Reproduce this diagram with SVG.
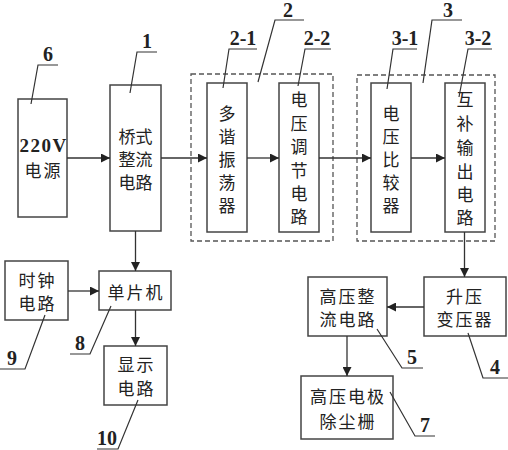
<svg xmlns="http://www.w3.org/2000/svg" width="508" height="450" viewBox="0 0 508 450">
<defs>
<marker id="ah" viewBox="0 0 10 10" refX="10" refY="5" markerWidth="9" markerHeight="9" markerUnits="userSpaceOnUse" orient="auto">
<path d="M0,0 L10,5 L0,10 z" fill="#222"/>
</marker>
</defs>
<style>
.box{fill:#fff;stroke:#444;stroke-width:1.5}
.dash{fill:none;stroke:#555;stroke-width:1.3;stroke-dasharray:5,3}
.t{font-family:"Noto Sans CJK SC","Noto Sans",sans-serif;font-size:17px;fill:#222;text-anchor:middle;dominant-baseline:central}
.h{letter-spacing:2px}
.n{font-family:"Liberation Serif",serif;font-weight:bold;font-size:20px;fill:#222;text-anchor:middle}
.ld{fill:none;stroke:#333;stroke-width:1.2}
.c{fill:none;stroke:#333;stroke-width:1.3;marker-end:url(#ah)}
</style>
<rect width="508" height="450" fill="#fff"/>
<rect class="dash" x="191" y="74" width="142" height="167"/>
<rect class="dash" x="357" y="75" width="138" height="166"/>
<g id="n6"><rect class="box" x="18" y="99" width="49" height="118"/><text x="43.5" y="152" style="font-family:'Liberation Serif',serif;font-weight:bold;font-size:19px;letter-spacing:1.5px;text-anchor:middle;fill:#222">220V</text><text class="t h" x="43.5" y="169">电源</text></g>
<g id="n1"><rect class="box" x="110" y="85" width="51" height="146"/><text class="t" x="135.5" y="135">桥式</text><text class="t" x="135.5" y="158">整流</text><text class="t" x="135.5" y="181">电路</text></g>
<g id="n2-1"><rect class="box" x="207" y="83" width="40" height="149"/><text class="t" x="227" y="112">多</text><text class="t" x="227" y="135">谐</text><text class="t" x="227" y="158">振</text><text class="t" x="227" y="181">荡</text><text class="t" x="227" y="204">器</text></g>
<g id="n2-2"><rect class="box" x="279" y="83" width="40" height="149"/><text class="t" x="299" y="98">电</text><text class="t" x="299" y="122">压</text><text class="t" x="299" y="145">调</text><text class="t" x="299" y="169">节</text><text class="t" x="299" y="192">电</text><text class="t" x="299" y="215">路</text></g>
<g id="n3-1"><rect class="box" x="371" y="83" width="40" height="149"/><text class="t" x="391" y="112">电</text><text class="t" x="391" y="135">压</text><text class="t" x="391" y="158">比</text><text class="t" x="391" y="181">较</text><text class="t" x="391" y="204">器</text></g>
<g id="n3-2"><rect class="box" x="445" y="83" width="40" height="149"/><text class="t" x="465" y="98">互</text><text class="t" x="465" y="122">补</text><text class="t" x="465" y="146">输</text><text class="t" x="465" y="170">出</text><text class="t" x="465" y="193">电</text><text class="t" x="465" y="216">路</text></g>
<g id="n9"><rect class="box" x="5" y="261" width="63" height="59"/><text class="t h" x="37.5" y="279">时钟</text><text class="t h" x="37.5" y="302">电路</text></g>
<g id="n8"><rect class="box" x="99" y="271" width="72" height="39"/><text class="t h" x="136" y="291">单片机</text></g>
<g id="n10"><rect class="box" x="104" y="346" width="63" height="59"/><text class="t h" x="136.5" y="363">显示</text><text class="t h" x="136.5" y="387">电路</text></g>
<g id="n4"><rect class="box" x="424" y="277" width="82" height="59"/><text class="t h" x="465" y="295">升压</text><text class="t h" x="465" y="318">变压器</text></g>
<g id="n5"><rect class="box" x="308" y="277" width="79" height="59"/><text class="t h" x="348" y="295">高压整</text><text class="t h" x="348" y="318">流电路</text></g>
<g id="n7"><rect class="box" x="301" y="376" width="92" height="63"/><text class="t h" x="348" y="395">高压电极</text><text class="t h" x="348" y="420">除尘栅</text></g>
<g id="connectors">
<line class="c" x1="67" y1="158" x2="110" y2="158"/>
<line class="c" x1="161" y1="158" x2="207" y2="158"/>
<line class="c" x1="247" y1="158" x2="279" y2="158"/>
<line class="c" x1="319" y1="158" x2="371" y2="158"/>
<line class="c" x1="411" y1="158" x2="445" y2="158"/>
<line class="c" x1="135.5" y1="231" x2="135.5" y2="271"/>
<line class="c" x1="68" y1="291" x2="99" y2="291"/>
<line class="c" x1="135.5" y1="310" x2="135.5" y2="346"/>
<line class="c" x1="464.5" y1="232" x2="464.5" y2="277"/>
<line class="c" x1="424" y1="307" x2="387" y2="307"/>
<line class="c" x1="347" y1="336" x2="347" y2="376"/>
</g>
<g id="labels">
<polyline class="ld" points="58,65 38,65 31,104"/><text class="n" x="48" y="61">6</text>
<polyline class="ld" points="157,52 137,52 130,93"/><text class="n" x="147" y="48">1</text>
<polyline class="ld" points="257,49 229,49 223,88"/><text class="n" x="243" y="45">2-1</text>
<polyline class="ld" points="331,49 305,49 298,86"/><text class="n" x="317" y="45">2-2</text>
<polyline class="ld" points="304,20 275,20 258,82"/><text class="n" x="288" y="17">2</text>
<polyline class="ld" points="462,20 432,20 423,83"/><text class="n" x="448" y="17">3</text>
<polyline class="ld" points="417,49 393,49 387,89"/><text class="n" x="405" y="45">3-1</text>
<polyline class="ld" points="492,49 468,49 459,97"/><text class="n" x="478" y="45">3-2</text>
<polyline class="ld" points="0,369 25,369 45,315"/><text class="n" x="12" y="365">9</text>
<polyline class="ld" points="70,354 90,354 111,306"/><text class="n" x="80" y="350">8</text>
<polyline class="ld" points="97,449 118,449 138,400"/><text class="n" x="107" y="445">10</text>
<polyline class="ld" points="423,368 402,368 377,329"/><text class="n" x="412" y="364">5</text>
<polyline class="ld" points="508,378 483,378 468,333"/><text class="n" x="495" y="374">4</text>
<polyline class="ld" points="435,436 415,436 390,392"/><text class="n" x="425" y="432">7</text>
</g>
</svg>
